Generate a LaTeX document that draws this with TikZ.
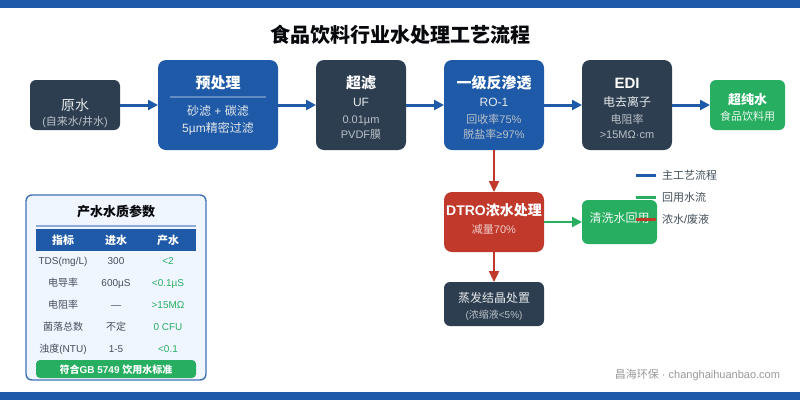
\documentclass[tikz,border=0pt]{standalone}
\usepackage{fontspec}
\setmainfont{Liberation Sans}
\newfontfamily\cjk{Noto Sans CJK SC}
\usetikzlibrary{arrows.meta}
\newcommand{\zh}[1]{{\cjk #1}}
\newcommand{\fs}[1]{\fontsize{#1}{#1}\selectfont}
\definecolor{mainblue}{HTML}{1E5AA8}
\definecolor{slatebox}{HTML}{2C3E50}
\definecolor{okgreen}{HTML}{27AE60}
\definecolor{wastered}{HTML}{C0392B}
\definecolor{panelbg}{HTML}{F0F6FF}
\definecolor{tabletext}{HTML}{444F5A}
\tikzset{
  px/.style={x=1pt,y=-1pt},
  label/.style={anchor=base,inner sep=0pt,outer sep=0pt},
  flowmain/.style={draw=mainblue,line width=3pt,-{Triangle[length=10pt,width=10pt]}},
  flowgreen/.style={draw=okgreen,line width=2.3pt,-{Triangle[length=10pt,width=10pt]}},
  flowred/.style={draw=wastered,line width=2.3pt,-{Triangle[length=11pt,width=10pt]}},
  cellA/.style={label,text=tabletext,font=\fs{10}},
  cellB/.style={label,text=okgreen,font=\fs{10}},
  headcell/.style={label,text=white,font=\fs{11}\bfseries},
  legendtext/.style={label,anchor=base west,text=tabletext,font=\fs{11}},
  keyline/.style={line width=3pt},
  whitehead/.style={label,text=white,font=\fs{15}\bfseries},
  subA/.style={label,text=white!88!slatebox,font=\fs{12}},
  subB/.style={label,text=white!68!slatebox,font=\fs{11}},
}
\newcommand{\stage}[7]{% name,x1,y1,x2,y2,color,radius
  \node[fill=#6,rounded corners=#7,inner sep=0pt,outer sep=0pt,
    minimum width=\the\dimexpr #4pt-#2pt\relax,minimum height=\the\dimexpr #5pt-#3pt\relax]
    (#1) at ({(#2+#4)/2},{(#3+#5)/2}) {};}
\begin{document}
\begin{tikzpicture}[px]
\useasboundingbox (0,0) rectangle (800,400);
\fill[white] (0,0) rectangle (800,400);
\fill[mainblue] (0,0) rectangle (800,8);
\fill[mainblue] (0,392) rectangle (800,400);
\node[label,text=black!85!slatebox,font=\fs{20}\bfseries] (title) at (400,42) {\zh{食品饮料行业水处理工艺流程}};

% stages
\stage{raw}{30}{80}{120}{130}{slatebox}{6pt}
\stage{pre}{158}{60}{278}{150}{mainblue}{8pt}
\stage{uf}{316}{60}{406}{150}{slatebox}{8pt}
\stage{ro}{444}{60}{544}{150}{mainblue}{8pt}
\stage{edi}{582}{60}{672}{150}{slatebox}{8pt}
\stage{pure}{710}{80}{785}{130}{okgreen}{6pt}
\stage{dtro}{444}{192}{544}{252}{wastered}{8pt}
\stage{wash}{582}{200}{657}{244}{okgreen}{6pt}
\stage{evap}{444}{282}{544}{326}{slatebox}{6pt}

% connectors
\draw[flowmain] (raw.east) -- (pre.west);
\draw[flowmain] (pre.east) -- (uf.west);
\draw[flowmain] (uf.east) -- (ro.west);
\draw[flowmain] (ro.east) -- (edi.west);
\draw[flowmain] (edi.east) -- (pure.west);
\draw[flowred] (ro.south) -- (dtro.north);
\draw[flowred] (dtro.south) -- (evap.north);
\draw[flowgreen] (dtro.east) -- (wash.west);

% stage text
\node[label,text=white!88!slatebox,font=\fs{14}] (rawA) at (75,110) {\zh{原水}};
\node[subB] (rawB) at (75,125) {(\zh{自来水}/\zh{井水})};

\node[whitehead] (preA) at (218,88) {\zh{预处理}};
\coordinate (preL) at (170,97);
\coordinate (preR) at (266,97);
\draw[white,opacity=.3,line width=1.5pt] (preL) -- (preR);
\node[subA] (preB) at (218,115) {\zh{砂滤} + \zh{碳滤}};
\node[subA] (preC) at (218,132) {5µm\zh{精密过滤}};

\node[whitehead] (ufA) at (361,88) {\zh{超滤}};
\node[subA] (ufB) at (361,106) {UF};
\node[subB] (ufC) at (361,123) {0.01µm};
\node[subB] (ufD) at (361,138) {PVDF\zh{膜}};

\node[whitehead] (roA) at (494,88) {\zh{一级反渗透}};
\node[subA] (roB) at (494,106) {RO-1};
\node[subB] (roC) at (494,123) {\zh{回收率}75\%};
\node[subB] (roD) at (494,138) {\zh{脱盐率}≥97\%};

\node[whitehead] (ediA) at (627,88) {EDI};
\node[subA] (ediB) at (627,106) {\zh{电去离子}};
\node[subB] (ediC) at (627,123) {\zh{电阻率}};
\node[subB] (ediD) at (627,138) {>15MΩ·cm};

\node[label,text=white,font=\fs{13}\bfseries] (pureA) at (747.5,104) {\zh{超纯水}};
\node[label,text=white!90!okgreen,font=\fs{11}] (pureB) at (747.5,120) {\zh{食品饮料用}};

\node[label,text=white,font=\fs{14}\bfseries] (dtroA) at (494,215) {DTRO\zh{浓水处理}};
\node[label,text=white!75!wastered,font=\fs{11}] (dtroB) at (494,233) {\zh{减量}70\%};

\node[label,text=white!92!okgreen,font=\fs{12}] (washA) at (619.5,222) {\zh{清洗水回用}};

\node[label,text=white!88!slatebox,font=\fs{12}] (evapA) at (494,302) {\zh{蒸发结晶处置}};
\node[label,text=white!68!slatebox,font=\fs{10}] (evapB) at (494,318) {(\zh{浓缩液}<5\%)};

% legend
\coordinate (k1a) at (636,175); \coordinate (k1b) at (656,175);
\coordinate (k2a) at (636,197); \coordinate (k2b) at (656,197);
\coordinate (k3a) at (636,219); \coordinate (k3b) at (656,219);
\draw[keyline,mainblue] (k1a) -- (k1b);
\draw[keyline,okgreen] (k2a) -- (k2b);
\draw[keyline,wastered] (k3a) -- (k3b);
\node[legendtext] (k1t) at (662,179) {\zh{主工艺流程}};
\node[legendtext] (k2t) at (662,201) {\zh{回用水流}};
\node[legendtext] (k3t) at (662,223) {\zh{浓水}/\zh{废液}};

% quality panel
\draw[rounded corners=6pt,fill=panelbg,draw=mainblue!85!white,line width=1.4pt] (26,195) rectangle (206,380);
\node[label,text=black!85!slatebox,font=\fs{13}\bfseries] (panelT) at (116,216) {\zh{产水水质参数}};
\coordinate (ruleL) at (36,226); \coordinate (ruleR) at (196,226);
\draw[mainblue!50!white,line width=1.5pt] (ruleL) -- (ruleR);
\fill[mainblue] (36,229) rectangle (196,251);
\node[headcell] (h1) at (63,244) {\zh{指标}};
\node[headcell] (h2) at (116,244) {\zh{进水}};
\node[headcell] (h3) at (168,244) {\zh{产水}};

\node[cellA] (a1) at (63,264) {TDS(mg/L)};
\node[cellA] (b1) at (116,264) {300};
\node[cellB] (c1) at (168,264) {<2};
\node[cellA] (a2) at (63,286) {\zh{电导率}};
\node[cellA] (b2) at (116,286) {600µS};
\node[cellB] (c2) at (168,286) {<0.1µS};
\node[cellA] (a3) at (63,308) {\zh{电阻率}};
\node[cellA] (b3) at (116,308) {—};
\node[cellB] (c3) at (168,308) {>15MΩ};
\node[cellA] (a4) at (63,330) {\zh{菌落总数}};
\node[cellA] (b4) at (116,330) {\zh{不定}};
\node[cellB] (c4) at (168,330) {0 CFU};
\node[cellA] (a5) at (63,352) {\zh{浊度}(NTU)};
\node[cellA] (b5) at (116,352) {1-5};
\node[cellB] (c5) at (168,352) {<0.1};

\fill[okgreen,rounded corners=4pt] (36,360) rectangle (196,378);
\node[label,text=white,font=\fs{10}\bfseries] (badge) at (116,373) {\zh{符合}GB 5749 \zh{饮用水标准}};

\node[label,anchor=base east,text=black!40,font=\fs{11}] (mark) at (780,378) {\zh{昌海环保} · changhaihuanbao.com};
\end{tikzpicture}
\end{document}
